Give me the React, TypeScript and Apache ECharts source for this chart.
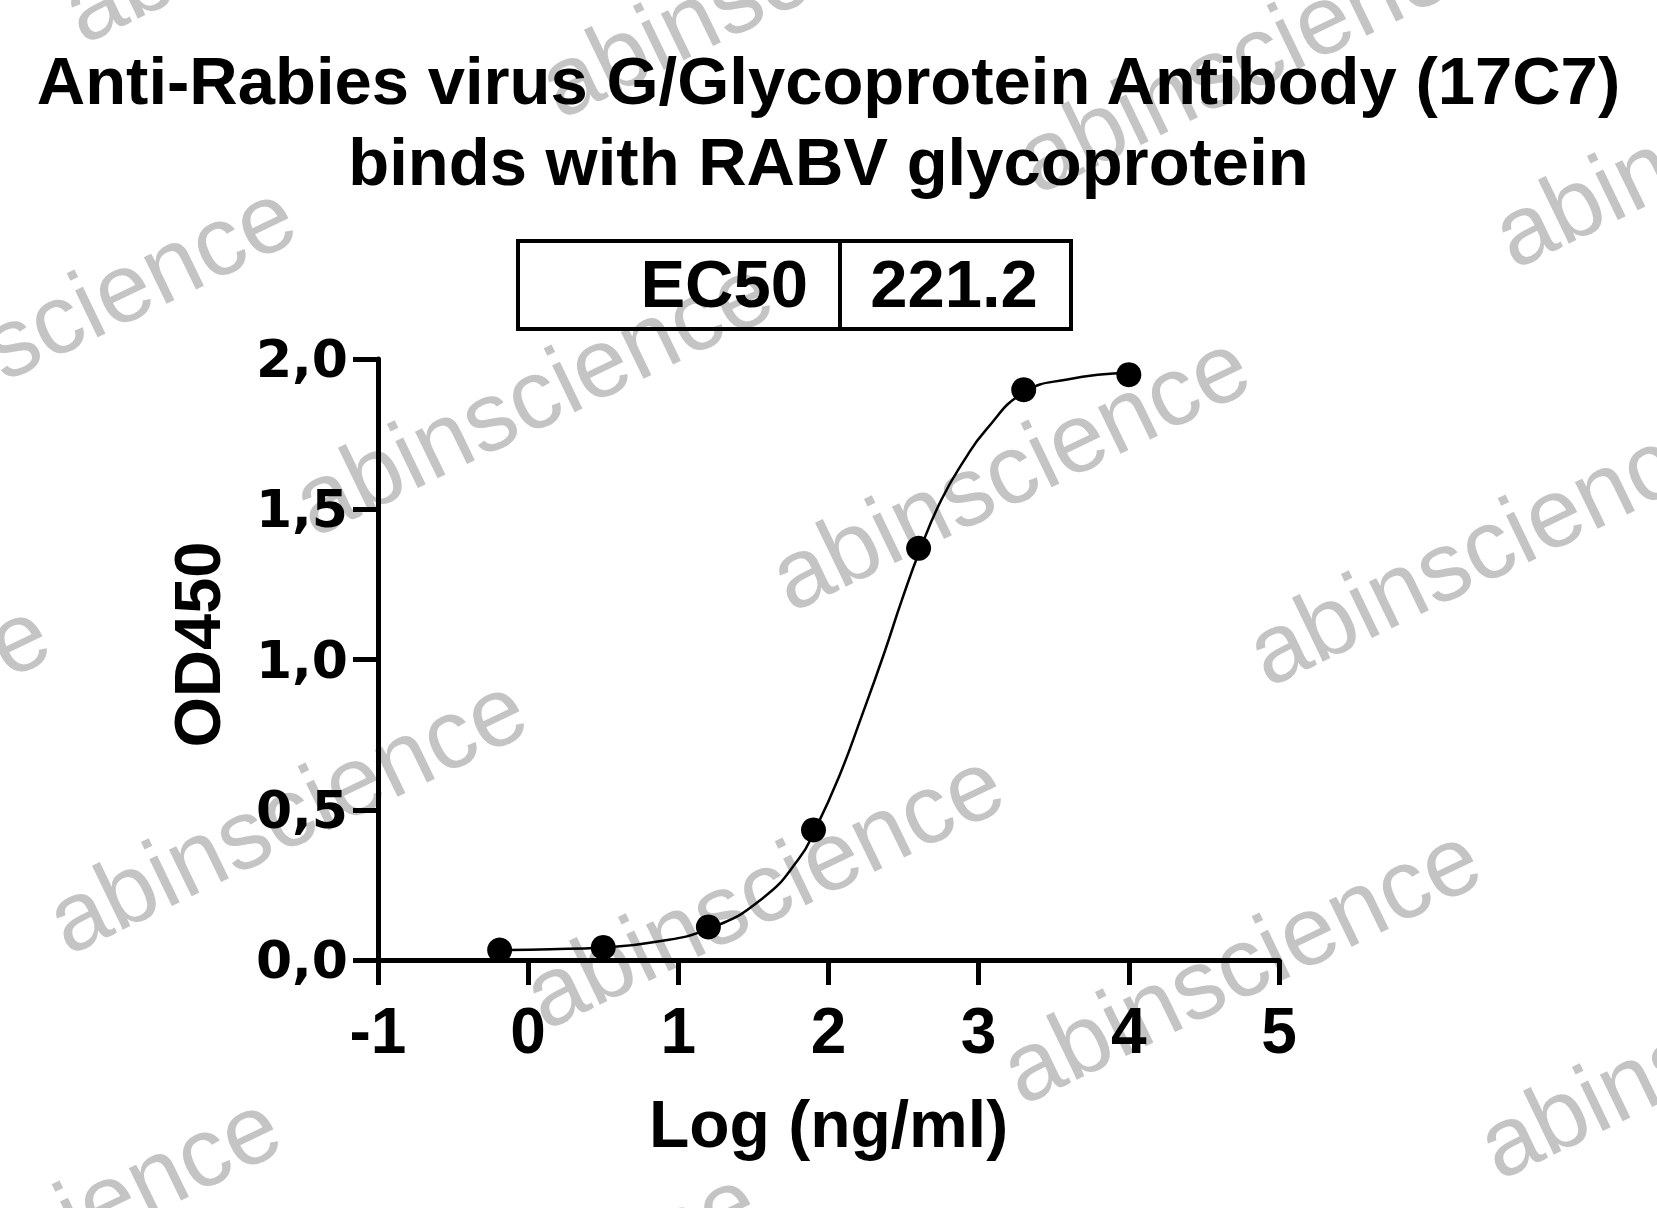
import React, { useEffect, useRef } from 'react';
import * as echarts from 'echarts';

// ---- texts ----
const titleLines = ['Anti-Rabies virus G/Glycoprotein Antibody (17C7)', 'binds with RABV glycoprotein'];
const xAxisName = 'Log (ng/ml)';
const yAxisName = 'OD450';
const ec50Label = 'EC50';
const ec50Value = '221.2';
const watermarkText = 'abinscience';

// ---- axis ticks ----
const xMin = -1;
const xMax = 5;
const xStep = 1;
const yMin = 0;
const yMax = 2;
const yStep = 0.5;

// ---- measured points (log concentration, OD450) ----
const pointX = [-0.19, 0.5, 1.2, 1.9, 2.6, 3.3, 4.0];
const pointY = [0.033, 0.042, 0.11, 0.433, 1.37, 1.898, 1.948];

// ---- fitted curve ----
const curveX = [-0.19, 0.15, 0.49, 0.82, 1.21, 1.56, 1.8, 1.91, 2.07, 2.22, 2.37, 2.49, 2.61, 2.75, 2.9, 3.05, 3.3, 3.59, 4.0];
const curveY = [0.033, 0.036, 0.042, 0.058, 0.105, 0.205, 0.335, 0.433, 0.61, 0.81, 1.02, 1.2, 1.365, 1.53, 1.66, 1.765, 1.888, 1.932, 1.954];

const FONT = '"Liberation Sans", Arial, Helvetica, sans-serif';

export default function App() {
  const ref = useRef<HTMLDivElement>(null);

  useEffect(() => {
    if (!ref.current) return;
    const chart = echarts.init(ref.current, null, { renderer: 'svg' });

    const watermarks: any[] = [];
    for (let j = -1; j <= 2; j++) {
      for (let i = -3; i <= 2; i++) {
        const cx = 763 + i * 477 + j * 246;
        const cy = 888 + i * 75 - j * 418;
        if (cx < -300 || cx > 1960 || cy < -200 || cy > 1420) continue;
        watermarks.push({
          type: 'text',
          x: cx,
          y: cy,
          rotation: 0.45,
          z: -10,
          silent: true,
          style: {
            text: watermarkText,
            fontSize: 98,
            fontFamily: FONT,
            fill: '#c4c4c4',
            align: 'center',
            verticalAlign: 'middle',
            textAlign: 'center',
            textVerticalAlign: 'middle',
          },
        });
      }
    }

    const option: any = {
      animation: false,
      backgroundColor: '#ffffff',
      title: {
        text: titleLines.join('\n'),
        left: 'center',
        top: 35,
        textStyle: {
          fontFamily: FONT,
          fontWeight: 'bold',
          fontSize: 67,
          lineHeight: 81,
          color: '#000',
        },
      },
      grid: { left: 378, right: 378, top: 359, bottom: 248, containLabel: false },
      xAxis: {
        type: 'value',
        min: xMin,
        max: xMax,
        interval: xStep,
        name: xAxisName,
        nameLocation: 'middle',
        nameGap: 131,
        nameTextStyle: { fontFamily: FONT, fontWeight: 'bold', fontSize: 66, color: '#000' },
        axisLine: { show: true, onZero: false, lineStyle: { color: '#000', width: 5 } },
        axisTick: { show: true, length: 25, lineStyle: { color: '#000', width: 5 } },
        axisLabel: { fontFamily: FONT, fontWeight: 'bold', fontSize: 64, color: '#000', margin: 39 },
        splitLine: { show: false },
      },
      yAxis: {
        type: 'value',
        min: yMin,
        max: yMax,
        interval: yStep,
        name: yAxisName,
        nameLocation: 'middle',
        nameGap: 148,
        nameTextStyle: { fontFamily: FONT, fontWeight: 'bold', fontSize: 65, color: '#000', padding: [0, 0, 0, 30] },
        axisLine: { show: true, onZero: false, lineStyle: { color: '#000', width: 5 } },
        axisTick: { show: true, length: 25, lineStyle: { color: '#000', width: 5 } },
        axisLabel: {
          fontFamily: '"DejaVu Sans", sans-serif',
          fontWeight: 'bold',
          fontSize: 52,
          color: '#000',
          margin: 30,
          formatter: (v: number) => v.toFixed(1).replace('.', ','),
        },
        splitLine: { show: false },
      },
      series: [
        {
          type: 'line',
          data: curveX.map((x, i) => [x, curveY[i]]),
          smooth: 0.5,
          showSymbol: false,
          symbol: 'none',
          lineStyle: { color: '#000', width: 2.5 },
          z: 3,
          silent: true,
        },
        {
          type: 'scatter',
          data: pointX.map((x, i) => [x, pointY[i]]),
          symbol: 'circle',
          symbolSize: 25,
          itemStyle: { color: '#000', opacity: 1 },
          z: 4,
        },
      ],
      graphic: [
        ...watermarks,
        {
          type: 'rect',
          z: 10,
          shape: { x: 518, y: 241, width: 553, height: 88 },
          style: { fill: 'none', stroke: '#000', lineWidth: 4 },
        },
        {
          type: 'line',
          z: 10,
          shape: { x1: 840, y1: 241, x2: 840, y2: 329 },
          style: { stroke: '#000', lineWidth: 4 },
        },
        {
          type: 'text',
          z: 10,
          x: 808,
          y: 283,
          style: {
            text: ec50Label,
            fontFamily: FONT,
            fontWeight: 'bold',
            fontSize: 67,
            fill: '#000',
            align: 'right',
            verticalAlign: 'middle',
            textAlign: 'right',
            textVerticalAlign: 'middle',
          },
        },
        {
          type: 'text',
          z: 10,
          x: 954,
          y: 283,
          style: {
            text: ec50Value,
            fontFamily: FONT,
            fontWeight: 'bold',
            fontSize: 67,
            fill: '#000',
            align: 'center',
            verticalAlign: 'middle',
            textAlign: 'center',
            textVerticalAlign: 'middle',
          },
        },
      ],
    };

    chart.setOption(option);
    return () => chart.dispose();
  }, []);

  return (
    <div
      ref={ref}
      style={{ position: 'fixed', left: 0, top: 0, width: 1657, height: 1208, background: '#fff' }}
    />
  );
}
